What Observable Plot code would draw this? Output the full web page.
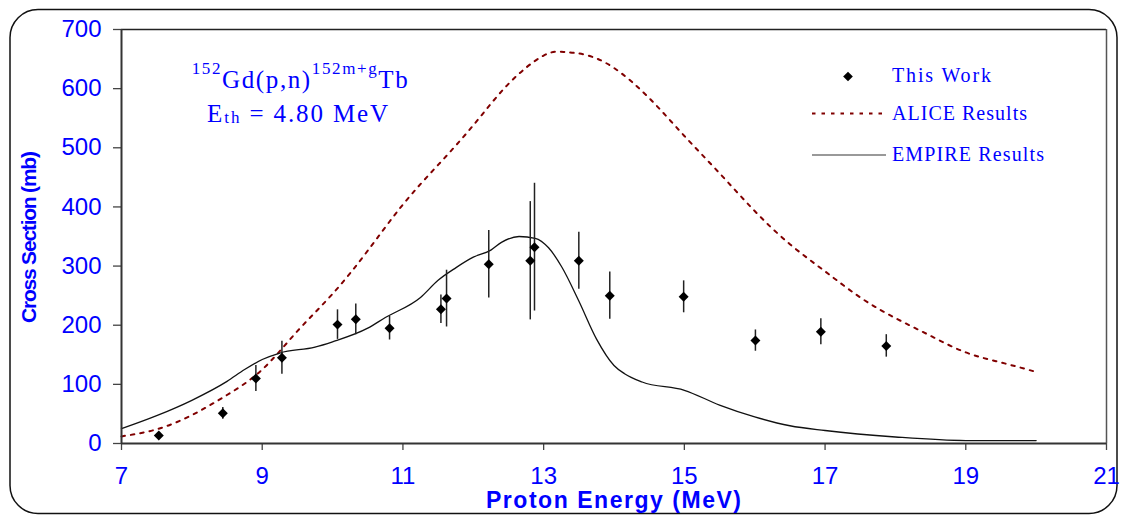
<!DOCTYPE html>
<html>
<head>
<meta charset="utf-8">
<script src="https://cdn.jsdelivr.net/npm/d3@7"></script>
<script src="https://cdn.jsdelivr.net/npm/@observablehq/plot@0.6"></script>
<style>
  body { margin: 0; background: #fff; }
  #chart { position: relative; width: 1121px; height: 517px; }
</style>
</head>
<body>
<div id="chart"></div>
<script>
// ---- Data ----
const workEnergy = [7.53, 8.44, 8.91, 9.28, 10.07, 10.33, 10.81, 11.54, 11.62, 12.22, 12.81, 12.87, 13.50, 13.94, 14.99, 16.01, 16.94, 17.87];
const workXS     = [13.5, 51, 110, 145, 201, 210, 195, 227, 245, 303, 309, 332, 309, 250, 248, 174, 189, 165];
const workErr    = [4, 10, 22, 28, 25, 26, 20, 24, 48, 57, 100, 108, 48, 40, 27, 18, 22, 19];

const aliceEnergy = [7.0, 7.5, 8.0, 8.5, 9.0, 9.5, 10.0, 10.5, 11.0, 11.5, 12.0, 12.5, 13.0, 13.3, 13.6, 14.0, 14.5, 15.0, 15.5, 16.0, 16.5, 17.0, 17.5, 18.0, 18.5, 19.0, 19.5, 20.0];
const aliceXS     = [12, 24, 48, 82, 125, 190, 253, 326, 404, 471, 538, 608, 656, 662, 657, 635, 584, 520, 457, 393, 337, 291, 247, 212, 182, 154, 137, 121];

const empireEnergy = [7.0, 7.5, 8.0, 8.5, 8.75, 9.0, 9.25, 9.75, 10.0, 10.5, 10.75, 11.25, 11.5, 11.75, 12.0, 12.25, 12.4, 12.65, 12.88, 13.07, 13.26, 13.5, 13.75, 14.0, 14.15, 14.4, 15.0, 15.5, 16.0, 16.5, 17.0, 18.0, 19.0, 20.0];
const empireXS     = [25, 47, 73, 105, 125, 142, 153, 163, 172, 195, 213, 247, 276, 297, 315, 327, 340, 350, 347, 331, 298, 241, 177, 132, 118, 104, 90, 65, 45, 30, 22, 11, 5, 5];

const xTicks = [7, 9, 11, 13, 15, 17, 19, 21];
const yTicks = [0, 100, 200, 300, 400, 500, 600, 700];

const legendLabels = ["This Work", "ALICE Results", "EMPIRE Results"];
const xTitle = "Proton Energy (MeV)";
const yTitle = "Cross Section (mb)";

// ---- Tables built from the arrays ----
const work = workEnergy.map((e, i) => ({e, xs: workXS[i], lo: workXS[i] - workErr[i], hi: workXS[i] + workErr[i]}));
const alice = aliceEnergy.map((e, i) => ({e, xs: aliceXS[i]}));
const empire = empireEnergy.map((e, i) => ({e, xs: empireXS[i]}));

const blue = "#0000ff";
const maroon = "#800000";

const plot = Plot.plot({
  width: 1121,
  height: 517,
  marginLeft: 121,
  marginRight: 15,
  marginTop: 29,
  marginBottom: 74,
  style: {fontFamily: "'Liberation Sans', Arial, sans-serif", background: "transparent", overflow: "visible", color: blue},
  x: {domain: [7, 21], ticks: xTicks, tickSize: 7, tickPadding: 16, label: null, tickFormat: d3.format("d")},
  y: {domain: [0, 700], ticks: yTicks, tickSize: 8, tickPadding: 12, label: null, tickFormat: d3.format("d")},
  marks: [
    Plot.ruleY([700], {stroke: "#222", strokeWidth: 1.3}),
    Plot.ruleX([21], {stroke: "#555", strokeWidth: 1.5}),
    Plot.line(alice, {x: "e", y: "xs", stroke: maroon, strokeWidth: 2, strokeDasharray: "3.5,6", curve: "natural"}),
    Plot.line(empire, {x: "e", y: "xs", stroke: "#111", strokeWidth: 1.3, curve: "monotone-x"}),
    Plot.ruleX(work, {x: "e", y1: "lo", y2: "hi", stroke: "#222", strokeWidth: 1.5}),
    Plot.dot(work, {x: "e", y: "xs", symbol: "diamond2", r: 4.5, fill: "#000", stroke: "none"}),
    Plot.ruleY([0], {stroke: "#333", strokeWidth: 2}),
    Plot.ruleX([7], {stroke: "#333", strokeWidth: 2})
  ]
});

const svg = d3.select(plot);
svg.selectAll('[aria-label="x-axis tick"], [aria-label="y-axis tick"]').attr("stroke", "#444").attr("stroke-width", 1.3);
svg.selectAll('g[aria-label="x-axis tick label"], g[aria-label="y-axis tick label"]').attr("fill", blue)
  .selectAll("text").style("font-size", "24px");

// Outer rounded border (behind)
svg.insert("rect", ":first-child")
  .attr("x", 10).attr("y", 9.5).attr("width", 1107).attr("height", 504).attr("rx", 28).attr("ry", 28)
  .attr("fill", "none").attr("stroke", "#111").attr("stroke-width", 1.5);

const sx = plot.scale("x"), sy = plot.scale("y");

// Axis titles
svg.append("text")
  .attr("x", sx.apply(14)).attr("y", 508)
  .attr("text-anchor", "middle").attr("font-weight", "bold").attr("font-size", 23)
  .attr("font-family", "'Liberation Sans', Arial, sans-serif").attr("fill", blue)
  .attr("textLength", 255).attr("lengthAdjust", "spacing")
  .text(xTitle);

svg.append("text")
  .attr("transform", `translate(36,${sy.apply(350) + 1}) rotate(-90)`)
  .attr("text-anchor", "middle").attr("font-weight", "bold").attr("font-size", 21)
  .attr("font-family", "'Liberation Sans', Arial, sans-serif").attr("fill", blue)
  .attr("textLength", 172).attr("lengthAdjust", "spacing")
  .text(yTitle);

// Reaction annotation
const serif = "'Liberation Serif', 'Times New Roman', serif";
const t1 = svg.append("text")
  .attr("x", sx.apply(9.54)).attr("y", sy.apply(600))
  .attr("text-anchor", "middle").attr("font-family", serif).attr("font-size", 25).attr("fill", blue)
  .attr("textLength", 216).attr("lengthAdjust", "spacing");
t1.append("tspan").attr("font-size", 17).attr("dy", -14).text("152");
t1.append("tspan").attr("dy", 14).text("Gd(p,n)");
t1.append("tspan").attr("font-size", 17).attr("dy", -14).text("152m+g");
t1.append("tspan").attr("dy", 14).text("Tb");

const t2 = svg.append("text")
  .attr("x", sx.apply(9.51)).attr("y", sy.apply(542))
  .attr("text-anchor", "middle").attr("font-family", serif).attr("font-size", 25).attr("fill", blue)
  .attr("textLength", 181).attr("lengthAdjust", "spacing");
t2.append("tspan").text("E");
t2.append("tspan").attr("font-size", 17).attr("dy", 1).text("th");
t2.append("tspan").attr("dy", -1).text(" = 4.80 MeV");

// Legend
const lg = svg.append("g").attr("font-family", serif).attr("font-size", 20).attr("fill", blue).attr("text-anchor", "start");
lg.append("path").attr("d", d3.symbol(d3.symbolDiamond2, 60)()).attr("transform", "translate(848,76.5)").attr("fill", "#000");
lg.append("line").attr("x1", 812).attr("x2", 886).attr("y1", 113.5).attr("y2", 113.5)
  .attr("stroke", maroon).attr("stroke-width", 2).attr("stroke-dasharray", "3.5,6");
lg.append("line").attr("x1", 812).attr("x2", 886).attr("y1", 155).attr("y2", 155)
  .attr("stroke", "#777").attr("stroke-width", 1.6);
const legendY = [82, 120, 160.5];
const legendW = [99, 135, 152];
legendLabels.forEach((s, i) => {
  lg.append("text").attr("x", 892).attr("y", legendY[i]).attr("text-anchor", "start")
    .attr("textLength", legendW[i]).attr("lengthAdjust", "spacing").text(s);
});

document.getElementById("chart").appendChild(plot);
</script>
</body>
</html>
